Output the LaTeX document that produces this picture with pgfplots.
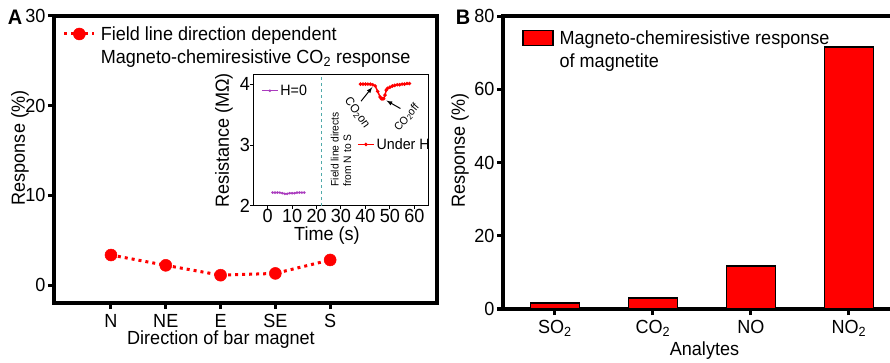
\documentclass[border=0pt]{standalone}
\usepackage{fontspec}
\setmainfont{Liberation Sans}[FakeStretch=0.95]
\usepackage{pgfplots}
\pgfplotsset{compat=1.18}
\definecolor{hpurple}{RGB}{170,60,190}
\definecolor{hteal}{RGB}{80,170,170}
\pgfplotsset{/pgf/number format/assume math mode=true,
  longleg/.style={legend image code/.code={\draw[##1, mark repeat=2, mark phase=2] plot coordinates {(0bp,0bp) (15bp,0bp) (30bp,0bp)};}},
  shortleg/.style={legend image code/.code={\draw[##1, mark repeat=2, mark phase=2] plot coordinates {(0bp,0bp) (8bp,0bp) (16bp,0bp)};}},
  boxleg/.style={legend image code/.code={\draw[##1] (0bp,-7bp) rectangle (30bp,8bp);}},
}
\begin{document}
\begin{tikzpicture}[font=\fontsize{19bp}{22bp}\selectfont]
\useasboundingbox (0,0) rectangle (890bp,363bp);
% ---------------- Panel A ----------------
\node[font=\fontsize{21bp}{24bp}\selectfont\bfseries] at (15bp,346bp) {A};
\begin{axis}[
  at={(54bp,60bp)}, anchor=south west, scale only axis,
  width=383bp, height=287bp,
  xmin=-1.04, xmax=5.95, ymin=-2, ymax=30,
  xtick={0,1,2,3,4}, xticklabels={N,NE,E,SE,S},
  ytick={0,10,20,30},
  tick pos=left, tick align=outside,
  major tick length=6bp,
  axis line style={line width=3.5bp},
  every tick/.style={black, line width=3bp},
  xlabel={Direction of bar magnet},
  ylabel={Response (\%)},
  every axis x label/.style={at={(axis description cs:0.436,-0.128)}, anchor=center},
  every axis y label/.style={at={(axis description cs:-0.089,0.54)}, rotate=90, anchor=center},
  xticklabel style={yshift=-2bp},
  yticklabel style={xshift=1bp},
  legend style={at={(axis description cs:0.02,0.975)}, anchor=north west, draw=none, fill=none,
    row sep=4bp, inner sep=1bp, column sep=3bp},
  legend cell align=left,
]
\addplot[red, line width=3bp, dash pattern=on 3bp off 4bp, mark=*, mark size=6bp,
  mark options={solid, fill=red, draw=red, line width=0.5bp}, longleg]
  coordinates {(0,3.35) (1,2.2) (2,1.1) (3,1.3) (4,2.8)};
\addlegendentry{Field line direction dependent}
\addlegendimage{empty legend}
\addlegendentry{Magneto-chemiresistive CO\textsubscript{2} response}
\end{axis}
% ---------------- Inset ----------------
\begin{axis}[
  at={(253bp,157bp)}, anchor=south west, scale only axis,
  width=176bp, height=131bp,
  xmin=-6, xmax=66, ymin=2, ymax=4.15,
  xtick={0,10,...,60}, ytick={2,3,4},
  tick pos=left, tick align=outside, major tick length=3bp,
  axis line style={line width=1bp},
  every tick/.style={black, line width=1bp},
  xlabel={Time (s)},
  ylabel={Resistance (MΩ)},
  every axis x label/.style={at={(axis description cs:0.42,-0.225)}, anchor=center},
  every axis y label/.style={at={(axis description cs:-0.165,0.50)}, rotate=90, anchor=center},
  xticklabel style={yshift=1bp, inner sep=1bp},
  yticklabel style={xshift=1bp, inner sep=1bp},
  legend style={at={(axis description cs:0.04,0.95)}, anchor=north west, draw=none, fill=none,
    inner sep=1bp, font=\fontsize{15bp}{17bp}\selectfont},
  clip=false,
]
\addplot[hpurple, line width=1.2bp, mark=*, mark size=0.6bp, shortleg]
  coordinates {(2,2.22) (3,2.22) (4,2.22) (5,2.22) (6,2.21) (7,2.20) (8,2.20) (9,2.21) (10,2.21) (11,2.21) (12,2.22) (13,2.22) (14,2.22) (15,2.22)};
\addlegendentry{H=0}
\draw[hteal, line width=1.2bp, dash pattern=on 3bp off 3bp] (axis cs:22,2) -- (axis cs:22,4.15);
\node[rotate=90, align=left, font=\fontsize{10.8bp}{12.5bp}\selectfont] at (axis cs:30,2.93) {Field line directs\\from N to S};
\node[rotate=-55, font=\fontsize{12bp}{13bp}\selectfont, inner sep=0pt] at (axis cs:36.6,3.53) {CO\textsubscript{2}on};
\draw[-latex, line width=1bp] (axis cs:38.2,3.72) -- (axis cs:42.8,3.95);
\node[rotate=50, font=\fontsize{11bp}{12bp}\selectfont, inner sep=0pt] at (axis cs:57,3.45) {CO\textsubscript{2}off};
\draw[-latex, line width=1bp] (axis cs:54.3,3.6) -- (axis cs:48.6,3.73);
\end{axis}
\begin{axis}[
  at={(253bp,157bp)}, anchor=south west, scale only axis,
  width=176bp, height=131bp,
  xmin=-6, xmax=66, ymin=2, ymax=4.15,
  hide axis,
  legend style={at={(axis description cs:0.585,0.47)}, anchor=west, draw=none, fill=none,
    inner sep=1bp, font=\fontsize{15bp}{17bp}\selectfont},
]
\addplot[red, line width=1.5bp, mark=*, mark size=0.9bp, shortleg]
  coordinates {(38,4.0) (39,4.0) (40,4.0) (41,4.0) (42,4.0) (43,3.99) (44,3.97) (45,3.88) (46,3.79) (46.5,3.76) (47,3.76) (47.5,3.76) (48,3.82) (48.5,3.90) (49,3.93) (50,3.95) (51,3.97) (52,3.98) (53,3.99) (54,3.99) (55,4.0) (56,4.0) (57,4.01) (58,4.01)};
\addlegendentry{Under H}
\end{axis}
% ---------------- Panel B ----------------
\node[font=\fontsize{21bp}{24bp}\selectfont\bfseries] at (463bp,346bp) {B};
\begin{axis}[
  at={(503bp,54bp)}, anchor=south west, scale only axis,
  width=392bp, height=293bp,
  xmin=-0.53, xmax=3.47, ymin=0, ymax=80,
  ybar, bar width=49bp,
  xtick={0,1,2,3}, xticklabels={SO\textsubscript{2},CO\textsubscript{2},NO,NO\textsubscript{2}},
  ytick={0,20,40,60,80},
  tick pos=left, tick align=outside,
  major tick length=6bp,
  axis line style={line width=3.5bp},
  every tick/.style={black, line width=3bp},
  xlabel={Analytes},
  ylabel={Response (\%)},
  every axis x label/.style={at={(axis description cs:0.514,-0.143)}, anchor=center},
  every axis y label/.style={at={(axis description cs:-0.11,0.54)}, rotate=90, anchor=center},
  xticklabel style={yshift=-2bp},
  yticklabel style={xshift=1bp},
  legend style={at={(axis description cs:0.045,0.96)}, anchor=north west, draw=none, fill=none,
    row sep=4bp, inner sep=1bp, column sep=4bp},
  legend cell align=left,
]
\addplot[draw=black, fill=red, line width=1.8bp, boxleg]
  coordinates {(0,1.6) (1,3.0) (2,11.8) (3,71.5)};
\addlegendentry{Magneto-chemiresistive response}
\addlegendimage{empty legend}
\addlegendentry{of magnetite}
\end{axis}
\end{tikzpicture}
\end{document}
